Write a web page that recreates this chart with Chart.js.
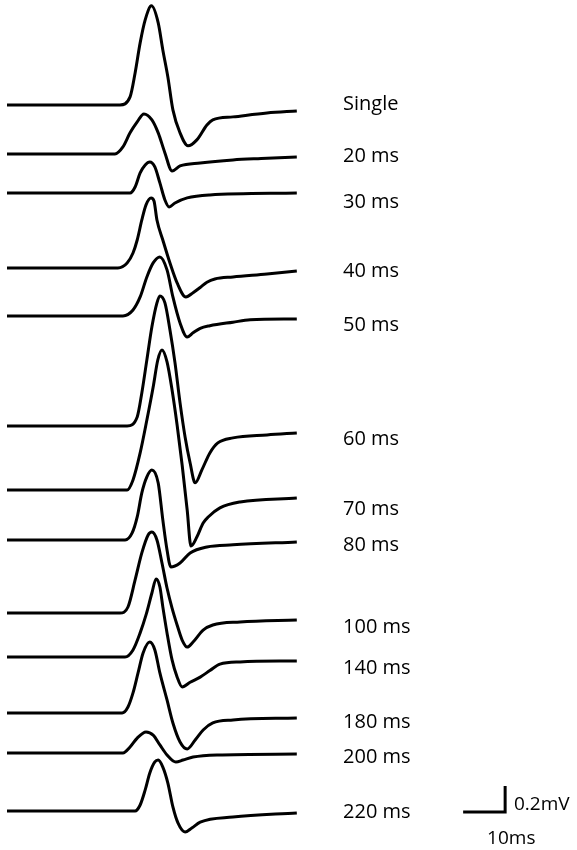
<!DOCTYPE html>
<html>
<head>
<meta charset="utf-8">
<script src="https://cdn.jsdelivr.net/npm/chart.js@4"></script>
<style>
  html, body { margin: 0; padding: 0; background: #fff; }
  #wrap { width: 577px; height: 850px; position: relative; }
</style>
</head>
<body>
<div id="wrap"><canvas id="traces"></canvas></div>
<script>
// each trace: [time (ms), voltage relative to its own baseline (mV)]
const trSingle = [[0,0],[26.9,0],[29.3,0.062],[30.5,0.246],[31.7,0.477],[32.9,0.654],[34.4,0.762],[36.0,0.631],[37.1,0.423],[38.3,0.215],[39.5,-0.038],[41.2,-0.215],[43.1,-0.315],[45.2,-0.269],[47.6,-0.154],[49.0,-0.115],[53.8,-0.092],[61.9,-0.062],[69.0,-0.046]];
const tr20 = [[0,0],[25.7,0],[27.6,0.054],[29.3,0.162],[31.0,0.246],[32.6,0.308],[34.5,0.262],[36.0,0.162],[37.6,0.008],[39.3,-0.131],[41.2,-0.092],[46.0,-0.069],[53.8,-0.046],[60.5,-0.035],[69.0,-0.023]];
const tr30 = [[0,0],[29.3,0],[30.5,0.046],[31.7,0.154],[32.9,0.215],[34.0,0.238],[35.2,0.2],[36.4,0.077],[37.6,-0.054],[38.6,-0.108],[40.0,-0.077],[42.9,-0.038],[48.3,-0.015],[69.0,0]];
const tr40 = [[0,0],[26.4,0],[28.6,0.038],[30.0,0.115],[31.0,0.215],[32.1,0.369],[33.1,0.485],[34.3,0.538],[35.0,0.515],[35.7,0.369],[37.1,0.215],[38.8,0.038],[40.5,-0.115],[42.6,-0.223],[44.3,-0.19],[46.0,-0.15],[47.6,-0.11],[49.5,-0.085],[53.8,-0.069],[61.9,-0.046],[69.0,-0.023]];
const tr50 = [[0,0],[27.6,0],[30.0,0.046],[31.7,0.146],[33.3,0.3],[34.8,0.408],[36.4,0.454],[38.1,0.354],[39.5,0.146],[41.2,-0.054],[42.9,-0.162],[44.3,-0.13],[46.0,-0.095],[48.3,-0.075],[53.8,-0.048],[57.9,-0.03],[69.0,-0.023]];
const tr60 = [[0,0],[28.6,0],[31.0,0.069],[32.1,0.254],[33.3,0.508],[34.5,0.762],[35.7,0.946],[36.4,1.0],[37.6,0.946],[38.8,0.738],[40.0,0.485],[41.2,0.177],[42.4,-0.085],[43.6,-0.285],[44.8,-0.438],[46.4,-0.338],[48.3,-0.208],[50.2,-0.131],[53.8,-0.092],[61.9,-0.069],[69.0,-0.054]];
const tr70 = [[0,0],[28.6,0],[30.0,0.077],[31.7,0.285],[33.3,0.538],[34.8,0.792],[35.9,1.0],[36.9,1.077],[38.1,0.985],[39.3,0.769],[40.5,0.5],[41.7,0.192],[42.9,-0.154],[43.8,-0.431],[45.2,-0.362],[46.7,-0.254],[47.9,-0.208],[50.7,-0.138],[55.5,-0.092],[69.0,-0.062]];
const tr80 = [[0,0],[28.1,0],[29.8,0.054],[31.0,0.177],[32.1,0.362],[33.3,0.485],[34.5,0.538],[36.0,0.438],[37.1,0.154],[38.1,-0.077],[39.0,-0.208],[41.2,-0.177],[43.6,-0.1],[47.6,-0.054],[53.8,-0.038],[69.0,-0.015]];
const tr100 = [[0,0],[26.9,0],[28.8,0.046],[30.5,0.254],[32.1,0.462],[33.6,0.6],[34.5,0.623],[35.7,0.562],[36.9,0.385],[38.1,0.192],[39.3,0.038],[40.5,-0.092],[41.7,-0.208],[42.9,-0.262],[44.3,-0.223],[46.7,-0.131],[49.0,-0.092],[55.5,-0.069],[69.0,-0.054]];
const tr140 = [[0,0],[28.1,0],[30.0,0.054],[31.7,0.185],[33.1,0.323],[34.5,0.492],[35.5,0.6],[36.4,0.538],[37.1,0.385],[38.1,0.185],[39.3,-0.023],[40.5,-0.154],[41.7,-0.231],[43.6,-0.195],[46.0,-0.155],[48.3,-0.105],[50.7,-0.055],[55.5,-0.038],[69.0,-0.031]];
const tr180 = [[0,0],[27.4,0],[28.8,0.046],[30.0,0.154],[31.2,0.308],[32.4,0.462],[34.0,0.546],[35.2,0.485],[36.4,0.308],[38.1,0.1],[39.5,-0.077],[41.2,-0.223],[42.9,-0.277],[44.8,-0.208],[46.7,-0.131],[49.0,-0.077],[53.8,-0.054],[69.0,-0.038]];
const tr200 = [[0,0],[27.6,0],[29.3,0.046],[31.0,0.115],[33.1,0.162],[34.8,0.138],[36.4,0.062],[38.1,-0.015],[40.2,-0.069],[41.9,-0.054],[44.3,-0.031],[50.0,-0.015],[69.0,-0.008]];
const tr220 = [[0,0],[30.5,0],[31.7,0.046],[32.9,0.162],[34.0,0.292],[35.2,0.377],[36.0,0.392],[37.1,0.338],[38.3,0.215],[39.5,0.031],[40.7,-0.092],[42.4,-0.162],[44.0,-0.131],[46.0,-0.085],[53.8,-0.046],[69.0,-0.015]];

const traceLabels = ['Single', '20 ms', '30 ms', '40 ms', '50 ms', '60 ms', '70 ms', '80 ms', '100 ms', '140 ms', '180 ms', '200 ms', '220 ms'];
const traceBaselines = [5.731, 5.354, 5.054, 4.477, 4.108, 3.262, 2.769, 2.385, 1.823, 1.485, 1.054, 0.746, 0.300];
const labelLevels = [5.746, 5.346, 4.992, 4.462, 4.046, 3.169, 2.631, 2.354, 1.723, 1.408, 0.992, 0.723, 0.300];

// scale bar: 10 ms x 0.2 mV
const barMs = 10;
const barMv = 0.2;
const barCorner = [118.6, 0.292];

const traces = [trSingle, tr20, tr30, tr40, tr50, tr60, tr70, tr80, tr100, tr140, tr180, tr200, tr220];

const datasets = traces.map((pts, i) => ({
    label: traceLabels[i],
    data: pts.map(p => ({ x: p[0], y: p[1] + traceBaselines[i] })),
    borderColor: '#000',
    borderWidth: 3,
    cubicInterpolationMode: 'monotone',
    borderJoinStyle: 'round',
    pointRadius: 0,
    fill: false
}));

datasets.push({
    label: 'scale',
    data: [
        { x: barCorner[0] - barMs, y: barCorner[1] },
        { x: barCorner[0], y: barCorner[1] },
        { x: barCorner[0], y: barCorner[1] + barMv }
    ],
    borderColor: '#000',
    borderWidth: 3,
    tension: 0,
    borderJoinStyle: 'miter',
    pointRadius: 0,
    fill: false
});

const labelPlugin = {
    id: 'traceLabels',
    afterDatasetsDraw(chart) {
        const ctx = chart.ctx;
        const xs = chart.scales.x;
        const ys = chart.scales.y;
        ctx.save();
        ctx.fillStyle = '#000';
        ctx.textBaseline = 'alphabetic';
        ctx.textAlign = 'left';
        ctx.font = '20px "Open Sans"';
        const lx = xs.getPixelForValue(80.0);
        traceLabels.forEach((txt, i) => {
            ctx.fillText(txt, lx, ys.getPixelForValue(labelLevels[i]) + 7);
        });
        ctx.font = '19px "Open Sans"';
        ctx.fillText(barMv + 'mV', xs.getPixelForValue(120.7), ys.getPixelForValue(0.362) + 7);
        ctx.fillText(barMs + 'ms', xs.getPixelForValue(114.3), ys.getPixelForValue(0.100) + 7);
        ctx.restore();
    }
};

const ctx = document.getElementById('traces').getContext('2d');
new Chart(ctx, {
    type: 'line',
    data: { datasets },
    options: {
        responsive: true,
        maintainAspectRatio: false,
        animation: false,
        layout: { padding: 0 },
        plugins: {
            legend: { display: false },
            tooltip: { enabled: false }
        },
        scales: {
            x: { type: 'linear', display: false, min: -1.667, max: 135.71 },
            y: { type: 'linear', display: false, min: 0, max: 6.538 }
        }
    },
    plugins: [labelPlugin]
});
</script>
</body>
</html>
